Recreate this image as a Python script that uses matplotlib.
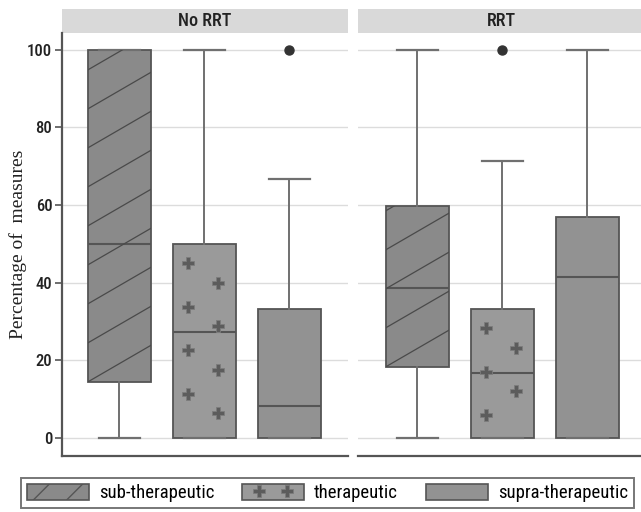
import numpy as np
import matplotlib
matplotlib.use("Agg")
import matplotlib.pyplot as plt
from matplotlib import font_manager
from matplotlib.patches import Patch, Rectangle
from matplotlib.lines import Line2D
from matplotlib.legend_handler import HandlerTuple, HandlerLine2D

# data (percent of measures)
panels = ["No RRT", "RRT"]
groups = ["sub-therapeutic", "therapeutic", "supra-therapeutic"]
whislo = [[0, 0, 0], [0, 0, 0]]
q1 = [[14.5, 0, 0], [18.4, 0, 0]]
med = [[50, 27.3, 8.4], [38.7, 16.7, 41.6]]
q3 = [[100, 50, 33.2], [59.7, 33.3, 57]]
whishi = [[100, 100, 66.6], [100, 71.4, 100]]
fliers = [[[], [], [100]], [[], [100], []]]

yticks = [0, 20, 40, 60, 80, 100]

# pick a narrow sans if one is installed
names = {f.name for f in font_manager.fontManager.ttflist}
narrow_fam = "DejaVu Sans"
for cand in ["Liberation Sans Narrow", "Roboto Condensed", "Open Sans Condensed"]:
    if cand in names:
        narrow_fam = cand
        break
narrow = dict(family=narrow_fam, stretch="condensed")

fills = ["#8a8a8a", "#9a9a9a", "#929292"]
edge = "#555555"
wcol = "#707070"
plus_face, plus_edge = "#5c5c5c", "#7c7c7c"

fig = plt.figure(figsize=(6.41, 5.12), dpi=100)
W, H = 641.0, 512.0
lefts = [62, 358]
xlims = [(0.324, 3.69), (0.30, 3.666)]

for p in range(2):
    ax = fig.add_axes([lefts[p] / W, (H - 456) / H, 286 / W, 423 / H])
    stats = []
    for g in range(3):
        stats.append(dict(whislo=whislo[p][g], q1=q1[p][g], med=med[p][g],
                          q3=q3[p][g], whishi=whishi[p][g], fliers=fliers[p][g]))
    b = ax.bxp(stats, positions=[1, 2, 3], widths=0.74, capwidths=0.48,
               patch_artist=True,
               boxprops=dict(edgecolor=edge, linewidth=1.3),
               medianprops=dict(color="#555555", linewidth=1.5),
               whiskerprops=dict(color=wcol, linewidth=1.4),
               capprops=dict(color=wcol, linewidth=1.6),
               flierprops=dict(marker="o", markerfacecolor="#333333",
                               markeredgecolor="#333333", markersize=6.5))
    for g, box in enumerate(b["boxes"]):
        box.set_facecolor(fills[g])
        box.set_zorder(2)
    ax.set_xlim(*xlims[p])
    ax.set_ylim(-4.6, 104.3)

    # slanted hatch lines in the sub-therapeutic box
    px_x = (xlims[p][1] - xlims[p][0]) / 286.0
    px_y = (104.3 + 4.6) / 423.0
    slope = 0.58 * px_y / px_x
    gap = 39 * px_y
    x0, x1 = 1 - 0.37, 1 + 0.37
    for k in range(-12, 12):
        yy0 = q1[p][0] + k * gap
        ln, = ax.plot([x0, x1], [yy0, yy0 + slope * (x1 - x0)],
                      color="#4a4a4a", lw=0.9, zorder=3)
        ln.set_clip_path(b["boxes"][0])

    # plus pattern in the therapeutic box
    step = 11.2
    for col, (dx, off) in enumerate([(-0.19, 5.0), (0.16, 10.0)]):
        ys = np.arange(q3[p][1] - off, q1[p][1] + 3, -step)
        mk, = ax.plot(np.full(len(ys), 2 + dx), ys, ls="none", marker="P",
                      markersize=9, markerfacecolor=plus_face,
                      markeredgecolor=plus_edge, markeredgewidth=0.6, zorder=3)
        mk.set_clip_path(b["boxes"][1])

    ax.set_yticks(yticks)
    ax.yaxis.grid(True, color="#dcdcdc", lw=1.0)
    ax.set_axisbelow(True)
    ax.set_xticks([])
    for s in ["top", "right"]:
        ax.spines[s].set_visible(False)
    ax.spines["bottom"].set_color("#555555")
    ax.spines["bottom"].set_linewidth(1.6)
    if p == 0:
        ax.spines["left"].set_color("#555555")
        ax.spines["left"].set_linewidth(1.6)
        ax.tick_params(axis="y", direction="out", length=5, width=1.2,
                       color="#555555", pad=2, labelsize=12)
        for t in ax.get_yticklabels():
            t.set_family(narrow_fam)
            t.set_stretch("condensed")
            t.set_weight("medium")
            t.set_color("#222222")
        ax.set_ylabel("Percentage of  measures", family="Liberation Serif",
                      fontsize=14, labelpad=0, color="#222222")
    else:
        ax.spines["left"].set_visible(False)
        ax.tick_params(axis="y", length=0, labelleft=False)

    # strip on top
    ax.add_patch(Rectangle((0, 1.0), 1, 24 / 423.0,
                           transform=ax.transAxes, clip_on=False,
                           facecolor="#d9d9d9", edgecolor="none"))
    ax.text(0.5, 1.0 + 12 / 423.0, panels[p],
            transform=ax.transAxes, ha="center", va="center",
            fontsize=13, color="#222222", weight="medium", **narrow)

h_sub = Patch(facecolor=fills[0], edgecolor=edge, hatch="/", lw=1.2)
h_plus = Line2D([], [], ls="none", marker="P", markersize=8,
                markerfacecolor=plus_face, markeredgecolor=plus_edge,
                markeredgewidth=0.6)
h_th = (Patch(facecolor=fills[1], edgecolor=edge, lw=1.2), h_plus)
h_sup = Patch(facecolor=fills[2], edgecolor=edge, lw=1.2)
plt.rcParams["hatch.color"] = "#4a4a4a"
leg = fig.legend([h_sub, h_th, h_sup], groups, ncol=3,
                 bbox_to_anchor=(327.5 / W, 19 / H),
                 loc="center", handlelength=3.3, handleheight=0.95,
                 handletextpad=0.53, columnspacing=1.5, numpoints=2,
                 fancybox=False, borderpad=0.3,
                 prop=font_manager.FontProperties(size=13.5, **narrow),
                 handler_map={tuple: HandlerTuple(ndivide=1),
                              h_plus: HandlerLine2D(marker_pad=0.9)})
leg.get_frame().set_edgecolor("#555555")
leg.get_frame().set_linewidth(1.4)

fig.savefig("out.png", dpi=100)
